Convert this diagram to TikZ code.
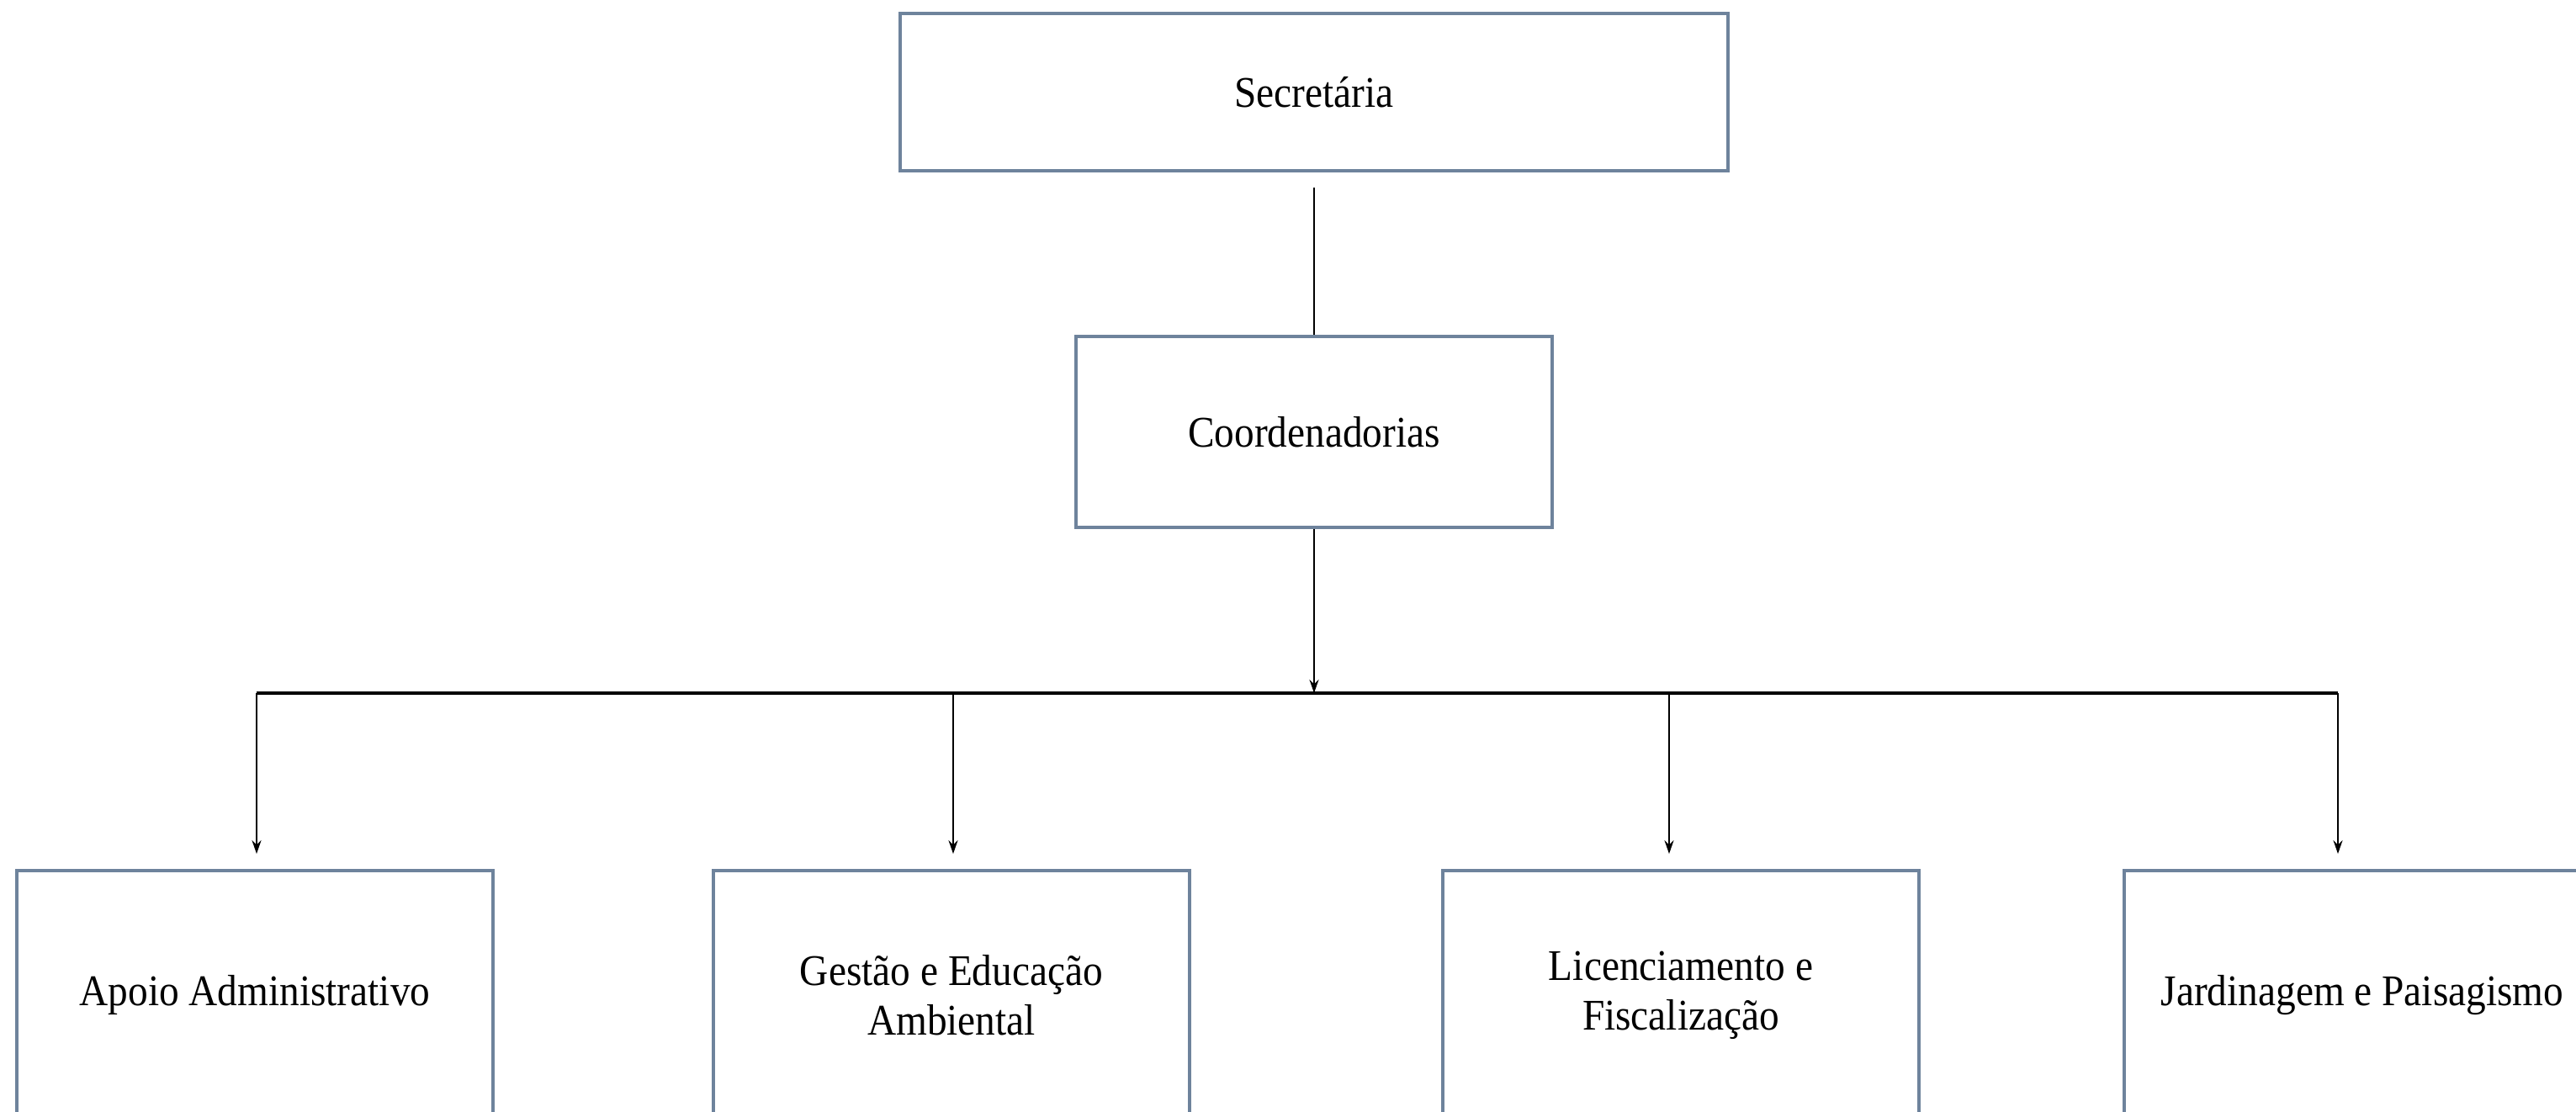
\documentclass[tikz,border=0pt]{standalone}
\usepackage{fontspec}
\setmainfont{Liberation Serif}[FakeStretch=0.91]
\usetikzlibrary{arrows.meta}
\definecolor{borda}{RGB}{110,131,156}
\tikzset{
    caixa/.style={draw=borda, line width=1.1pt, fill=white, align=center,
        font=\fontsize{14.8}{16.7}\selectfont, inner sep=0pt},
    seta/.style={-{Stealth[length=1.6mm,width=1.1mm]}, line width=0.6pt},
    barra/.style={line width=1.2pt}
}
\begin{document}
\begin{tikzpicture}
    % Moldura
    \clip (0,0) rectangle (30.62,-13.22);
    \fill[white] (0,0) rectangle (30.62,-13.22);

    % Niveis superiores
    \node[caixa, minimum width=9.84cm, minimum height=1.87cm] (sec) at (15.62,-1.095) {Secretária};
    \node[caixa, minimum width=5.66cm, minimum height=2.27cm] (coord) at (15.62,-5.135) {Coordenadorias};

    % Coordenadorias (cortadas na borda)
    \foreach \nome/\x/\texto in {apoio/3.03/{Apoio Administrativo},
                                 gestao/11.31/{Gestão e Educação\\Ambiental},
                                 lic/19.98/{Licenciamento e\\Fiscalização},
                                 jard/28.08/{Jardinagem e Paisagismo}} {
        \node[caixa, minimum width=5.66cm, minimum height=2.96cm] (\nome) at (\x,-11.83) {\texto};
    }

    % Barramento
    \coordinate (b1) at (3.05,-8.24);
    \coordinate (b2) at (11.33,-8.24);
    \coordinate (b3) at (19.84,-8.24);
    \coordinate (b4) at (27.79,-8.24);
    \coordinate (bc) at (coord.south |- b1);

    % Ligacoes
    \draw[line width=0.6pt, shorten <=0.18cm] (sec.south) -- (coord.north);
    \draw[seta] (coord.south) -- (bc);
    \draw[barra] (b1) -- (b4);
    \draw[seta, shorten >=0.18cm] (b1) -- (b1 |- apoio.north);
    \draw[seta, shorten >=0.18cm] (b2) -- (b2 |- gestao.north);
    \draw[seta, shorten >=0.18cm] (b3) -- (b3 |- lic.north);
    \draw[seta, shorten >=0.18cm] (b4) -- (b4 |- jard.north);
\end{tikzpicture}
\end{document}
